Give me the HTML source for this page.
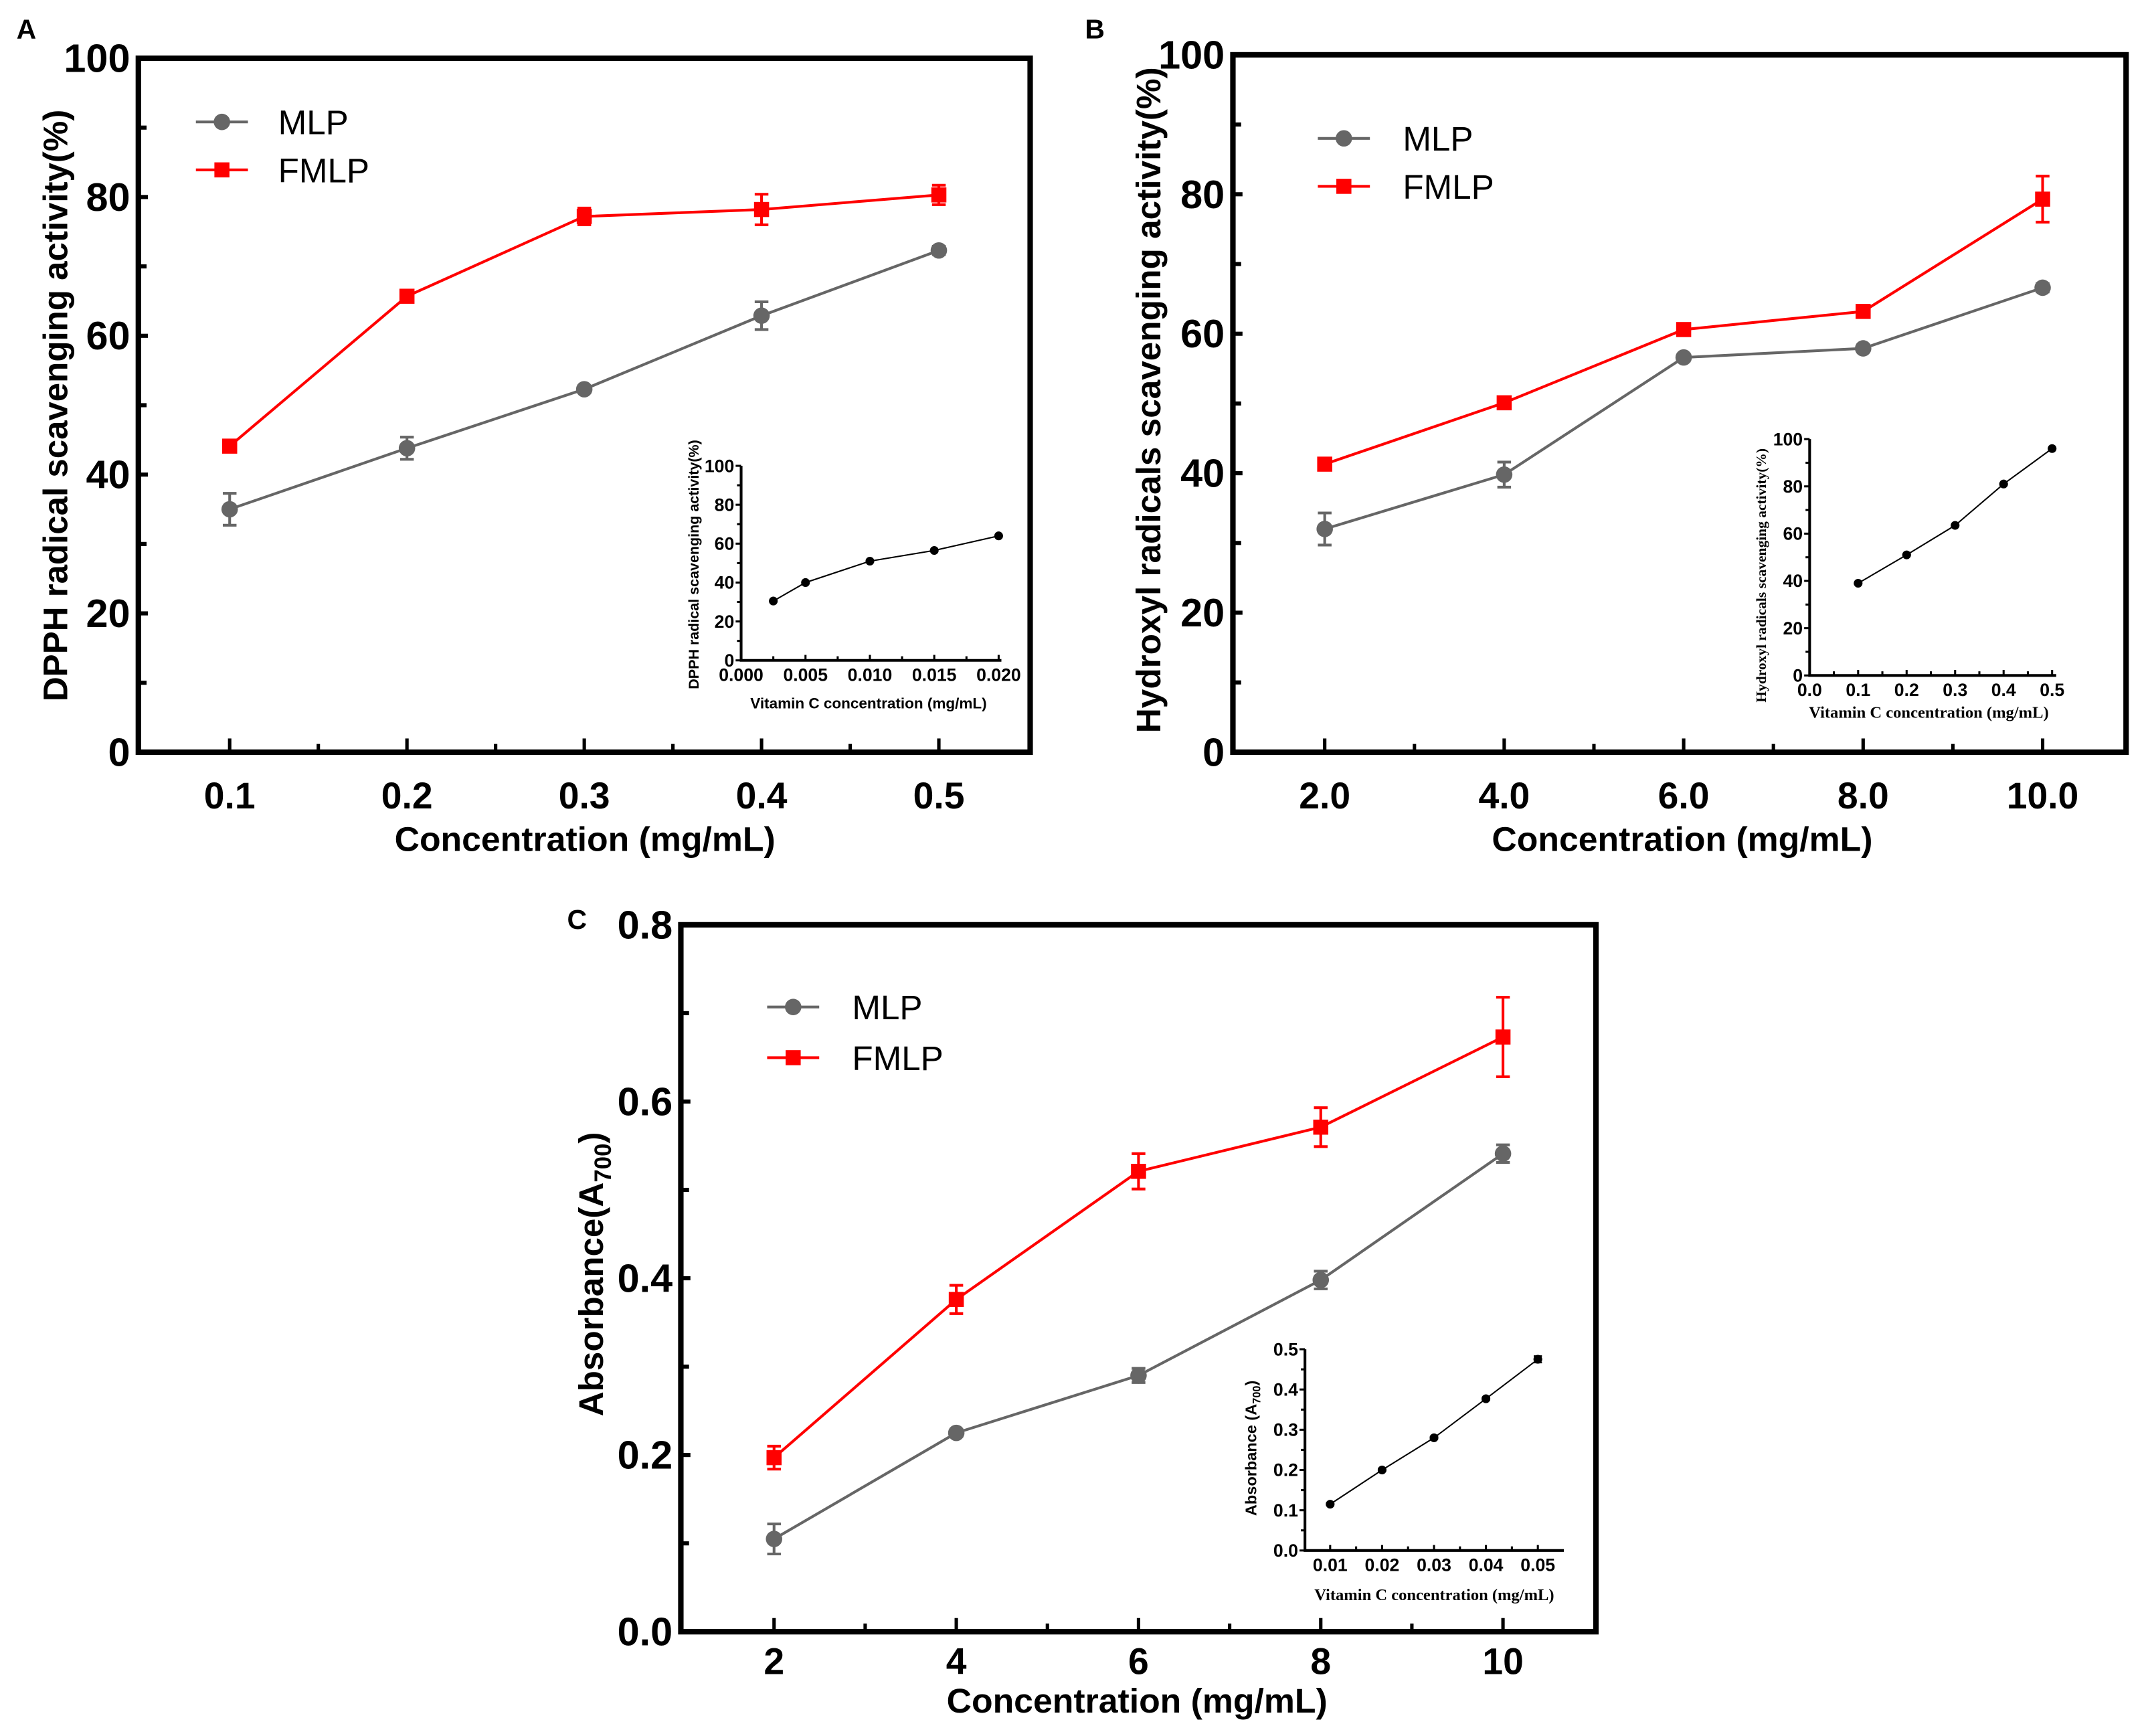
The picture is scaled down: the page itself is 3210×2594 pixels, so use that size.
<!DOCTYPE html>
<html><head><meta charset="utf-8"><style>
html,body{margin:0;padding:0;background:#fff;}
svg{display:block;}
text{font-family:"Liberation Sans Narrow","Liberation Sans",sans-serif;font-weight:bold;fill:#000;}
.serif{font-family:"Liberation Serif",serif;}
</style></head><body>
<svg id="fig" width="3210" height="2594" viewBox="0 0 1568 1267.1" xmlns="http://www.w3.org/2000/svg">
<g id="root"></g>
</svg>
<script>
// ---- Panel A data ----
const aX = [0.1, 0.2, 0.3, 0.4, 0.5];
const aMLP = [35.0, 43.8, 52.3, 62.9, 72.3];
const aMLPErr = [2.3, 1.6, 0.5, 2.0, 0.6];
const aFMLP = [44.1, 65.7, 77.2, 78.2, 80.3];
const aFMLPErr = [0.5, 0.5, 1.2, 2.2, 1.4];
const aXTicks = ["0.1", "0.2", "0.3", "0.4", "0.5"];
const aYTicks = ["0", "20", "40", "60", "80", "100"];
const aInsX = [0.0025, 0.005, 0.010, 0.015, 0.020];
const aInsY = [30.5, 40.0, 51.0, 56.5, 64.0];
const aInsXTicks = ["0.000", "0.005", "0.010", "0.015", "0.020"];
const aInsYTicks = ["0", "20", "40", "60", "80", "100"];
// ---- Panel B data ----
const bX = [2, 4, 6, 8, 10];
const bMLP = [32.0, 39.8, 56.6, 57.9, 66.6];
const bMLPErr = [2.3, 1.8, 0.5, 0.5, 0.6];
const bFMLP = [41.3, 50.1, 60.6, 63.2, 79.3];
const bFMLPErr = [0.5, 0.5, 0.6, 0.6, 3.3];
const bXTicks = ["2.0", "4.0", "6.0", "8.0", "10.0"];
const bYTicks = ["0", "20", "40", "60", "80", "100"];
const bInsX = [0.1, 0.2, 0.3, 0.4, 0.5];
const bInsY = [39.0, 51.0, 63.5, 81.0, 96.0];
const bInsXTicks = ["0.0", "0.1", "0.2", "0.3", "0.4", "0.5"];
const bInsYTicks = ["0", "20", "40", "60", "80", "100"];
// ---- Panel C data ----
const cX = [2, 4, 6, 8, 10];
const cMLP = [0.105, 0.225, 0.290, 0.398, 0.541];
const cMLPErr = [0.017, 0.004, 0.008, 0.010, 0.010];
const cFMLP = [0.197, 0.376, 0.521, 0.571, 0.673];
const cFMLPErr = [0.013, 0.016, 0.020, 0.022, 0.045];
const cXTicks = ["2", "4", "6", "8", "10"];
const cYTicks = ["0.0", "0.2", "0.4", "0.6", "0.8"];
const cInsX = [0.01, 0.02, 0.03, 0.04, 0.05];
const cInsY = [0.115, 0.200, 0.280, 0.377, 0.475];
const cInsErr = [0.003, 0.003, 0.003, 0.003, 0.008];
const cInsXTicks = ["0.01", "0.02", "0.03", "0.04", "0.05"];
const cInsYTicks = ["0.0", "0.1", "0.2", "0.3", "0.4", "0.5"];

const NS = "http://www.w3.org/2000/svg";
const root = document.getElementById('root');
function mk(tag, attrs, parent, txt) {
  const e = document.createElementNS(NS, tag);
  for (const k in attrs) e.setAttribute(k, attrs[k]);
  if (txt !== undefined) e.textContent = txt;
  (parent || root).appendChild(e);
  return e;
}
function scale(d0, d1, r0, r1) { return v => r0 + (v - d0) / (d1 - d0) * (r1 - r0); }

function panel(L) {
  const g = mk('g', {});
  
  
  const sx = scale(L.xd[0], L.xd[1], L.left, L.right);
  const sy = scale(L.yd[0], L.yd[1], L.bottom, L.top);
  const fr = mk('rect', {x: L.left, y: L.top, width: L.right - L.left, height: L.bottom - L.top, fill: 'none', stroke: '#000', 'stroke-width': 4}, g);
  
  
  const yt = L.yTicks.map(Number);
  yt.forEach((v, i) => {
    mk('line', {x1: L.left, x2: L.left + 7, y1: sy(v), y2: sy(v), stroke: '#000', 'stroke-width': 3}, g);
    const t = mk('text', {x: L.left - 6, y: sy(v) + 10, 'text-anchor': 'end', 'font-size': 29}, g, L.yTicks[i]);
    
    
    if (i < yt.length - 1) {
      const m = (v + yt[i + 1]) / 2;
      mk('line', {x1: L.left, x2: L.left + 6, y1: sy(m), y2: sy(m), stroke: '#000', 'stroke-width': 3}, g);
    }
  });
  L.xVals.forEach((v, i) => {
    mk('line', {x1: sx(v), x2: sx(v), y1: L.bottom, y2: L.bottom - 10, stroke: '#000', 'stroke-width': 2.5}, g);
    const t = mk('text', {x: sx(v), y: L.bottom + L.xtOff, 'text-anchor': 'middle', 'font-size': 27}, g, L.xTicks[i]);
    
    
    if (i < L.xVals.length - 1) {
      const m = (v + L.xVals[i + 1]) / 2;
      mk('line', {x1: sx(m), x2: sx(m), y1: L.bottom, y2: L.bottom - 6, stroke: '#000', 'stroke-width': 2.5}, g);
    }
  });
  const xt = mk('text', {x: L.xTitle[0], y: L.xTitle[1], 'text-anchor': 'middle', 'font-size': 25, textLength: 278, lengthAdjust: 'spacingAndGlyphs'}, g, L.xTitleText);
  
  
  const ytl = mk('text', {x: 0, y: 0, 'text-anchor': 'middle', 'font-size': 25, textLength: L.yLen, lengthAdjust: 'spacingAndGlyphs', transform: `translate(${L.yTitle[0]},${L.yTitle[1]}) rotate(-90)`}, g);
  
  
  if (L.sub) {
    ytl.removeAttribute('textLength');
    mk('tspan', {}, ytl, 'Absorbance(A');
    mk('tspan', {'font-size': 17, dy: 6}, ytl, '700');
    mk('tspan', {dy: -6}, ytl, ')');
  } else ytl.textContent = L.yTitleText;
  const pl = mk('text', {x: L.letter[0], y: L.letter[1], 'font-size': 20, 'font-family': 'Liberation Sans'}, g, L.letterText);
  
  
  const series = [
    {y: L.mlp, e: L.mlpErr, c: '#666666', sq: false, n: 'mlp'},
    {y: L.fmlp, e: L.fmlpErr, c: '#ff0000', sq: true, n: 'fmlp'}
  ];
  series.forEach(s => {
    const pts = L.xVals.map((x, i) => sx(x) + ',' + sy(s.y[i])).join(' ');
    const pl2 = mk('polyline', {points: pts, fill: 'none', stroke: s.c, 'stroke-width': 2}, g);
    
    
    L.xVals.forEach((x, i) => {
      const cx = sx(x), cy = sy(s.y[i]);
      const y1 = sy(s.y[i] + s.e[i]), y2 = sy(s.y[i] - s.e[i]);
      mk('path', {d: `M${cx},${y1}V${y2}M${cx - 5},${y1}H${cx + 5}M${cx - 5},${y2}H${cx + 5}`, stroke: s.c, 'stroke-width': 2, fill: 'none'}, g);
      let m;
      if (s.sq) m = mk('rect', {x: cx - 5.5, y: cy - 5.5, width: 11, height: 11, fill: s.c}, g);
      else m = mk('circle', {cx: cx, cy: cy, r: 6, fill: s.c}, g);
      
      
    });
  });
  [['MLP', '#666666', false, L.leg[1]], ['FMLP', '#ff0000', true, L.leg[1] + L.leg[3]]].forEach(r => {
    const lg = mk('g', {}, g);
    
    
    mk('line', {x1: L.leg[0] - 19, x2: L.leg[0] + 19, y1: r[3], y2: r[3], stroke: r[1], 'stroke-width': 2}, lg);
    if (r[2]) mk('rect', {x: L.leg[0] - 5.5, y: r[3] - 5.5, width: 11, height: 11, fill: r[1]}, lg);
    else mk('circle', {cx: L.leg[0], cy: r[3], r: 6, fill: r[1]}, lg);
    mk('text', {x: L.leg[2], y: r[3] + 9, 'font-size': 25, style: 'font-weight:normal;font-family:"Liberation Sans",sans-serif'}, lg, r[0]);
  });
  const I = L.ins;
  const ig = mk('g', {}, g);
  
  
  const isx = scale(I.xd[0], I.xd[1], I.x0, I.x1);
  const isy = scale(I.yd[0], I.yd[1], I.bottom, I.top);
  mk('path', {d: `M${I.left},${I.top}V${I.bottom}H${I.right}`, stroke: '#000', 'stroke-width': 2, fill: 'none'}, ig);
  const iyt = I.yTicks.map(Number);
  iyt.forEach((v, i) => {
    mk('line', {x1: I.left - 4, x2: I.left, y1: isy(v), y2: isy(v), stroke: '#000', 'stroke-width': 1.5}, ig);
    mk('text', {x: I.left - 5, y: isy(v) + 4.5, 'text-anchor': 'end', 'font-size': 13}, ig, I.yTicks[i]);
    if (i < iyt.length - 1) { const m = (v + iyt[i + 1]) / 2; mk('line', {x1: I.left - 3, x2: I.left, y1: isy(m), y2: isy(m), stroke: '#000', 'stroke-width': 1.5}, ig); }
  });
  I.xTicks.forEach((lab, i) => {
    const v = Number(lab);
    mk('line', {x1: isx(v), x2: isx(v), y1: I.bottom, y2: I.bottom - 4, stroke: '#000', 'stroke-width': 1.5}, ig);
    mk('text', {x: isx(v), y: I.bottom + 15, 'text-anchor': 'middle', 'font-size': 13}, ig, lab);
    if (i < I.xTicks.length - 1) { const m = (v + Number(I.xTicks[i + 1])) / 2; mk('line', {x1: isx(m), x2: isx(m), y1: I.bottom, y2: I.bottom - 3, stroke: '#000', 'stroke-width': 1.5}, ig); }
  });
  mk('polyline', {points: I.xs.map((x, i) => isx(x) + ',' + isy(I.ys[i])).join(' '), fill: 'none', stroke: '#000', 'stroke-width': 1}, ig);
  I.xs.forEach((x, i) => {
    if (I.err) { const a = isy(I.ys[i] + I.err[i]), b = isy(I.ys[i] - I.err[i]); mk('path', {d: `M${isx(x)},${a}V${b}M${isx(x) - 3},${a}H${isx(x) + 3}M${isx(x) - 3},${b}H${isx(x) + 3}`, stroke: '#000', 'stroke-width': 1.2}, ig); }
    const c = mk('circle', {cx: isx(x), cy: isy(I.ys[i]), r: 3.2, fill: '#000'}, ig);
    
    
  });
  const ixt = mk('text', {x: I.xTitle[0], y: I.xTitle[1], 'text-anchor': 'middle', 'font-size': I.serif ? 12 : 11}, ig, 'Vitamin C concentration (mg/mL)');
  if (I.serif) ixt.setAttribute('class', 'serif');
  const iyl = mk('text', {x: 0, y: 0, 'text-anchor': 'middle', 'font-size': I.yfs, transform: `translate(${I.yTitle[0]},${I.yTitle[1]}) rotate(-90)`}, ig);
  if (I.yserif) iyl.setAttribute('class', 'serif');
  if (I.sub) { mk('tspan', {}, iyl, 'Absorbance (A'); mk('tspan', {'font-size': 8, dy: 3}, iyl, '700'); mk('tspan', {dy: -3}, iyl, ')'); }
  else iyl.textContent = I.yTitleText;
}

panel({name: 'panel-a', letterText: 'A', letter: [12, 28], left: 101, right: 752, top: 42.5, bottom: 549,
  xd: [0.0485, 0.5515], yd: [0, 100], xVals: aX, xTicks: aXTicks, yTicks: aYTicks, xtOff: 41,
  mlp: aMLP, mlpErr: aMLPErr, fmlp: aFMLP, fmlpErr: aFMLPErr,
  xTitle: [427, 621], xTitleText: 'Concentration (mg/mL)', yTitle: [49, 296], yLen: 432, yTitleText: 'DPPH radical scavenging activity(%)',
  leg: [162, 89, 203, 35],
  ins: {left: 541, right: 731, top: 340, bottom: 482, x0: 541, x1: 729, xd: [0, 0.02], yd: [0, 100],
    xTicks: aInsXTicks, yTicks: aInsYTicks, xs: aInsX, ys: aInsY, xTitle: [634, 517], yTitle: [510, 412], yfs: 10.5,
    yTitleText: 'DPPH radical scavenging activity(%)'}});

panel({name: 'panel-b', letterText: 'B', letter: [792, 28], left: 900, right: 1552, top: 40, bottom: 549,
  xd: [0.977, 10.93], yd: [0, 100], xVals: bX, xTicks: bXTicks, yTicks: bYTicks, xtOff: 41,
  mlp: bMLP, mlpErr: bMLPErr, fmlp: bFMLP, fmlpErr: bFMLPErr,
  xTitle: [1228, 621], xTitleText: 'Concentration (mg/mL)', yTitle: [847, 292], yLen: 486, yTitleText: 'Hydroxyl radicals scavenging activity(%)',
  leg: [981, 101, 1024, 35],
  ins: {left: 1321, right: 1501, top: 320.5, bottom: 493, x0: 1321, x1: 1498, xd: [0, 0.5], yd: [0, 100],
    xTicks: bInsXTicks, yTicks: bInsYTicks, xs: bInsX, ys: bInsY, xTitle: [1408, 524], yTitle: [1289, 420], yfs: 10.5,
    serif: true, yserif: true, yTitleText: 'Hydroxyl radicals scavenging activity(%)'}});

panel({name: 'panel-c', letterText: 'C', letter: [414, 678], left: 497, right: 1165, top: 675, bottom: 1191,
  xd: [0.977, 11.02], yd: [0, 0.8], xVals: cX, xTicks: cXTicks, yTicks: cYTicks, xtOff: 31,
  mlp: cMLP, mlpErr: cMLPErr, fmlp: cFMLP, fmlpErr: cFMLPErr,
  xTitle: [830, 1250], xTitleText: 'Concentration (mg/mL)', yTitle: [440, 930], sub: true,
  leg: [579, 735, 622, 37],
  ins: {left: 952.6, right: 1141.6, top: 984.8, bottom: 1131.7, x0: 971, x1: 1122.6, xd: [0.01, 0.05], yd: [0, 0.5],
    xTicks: cInsXTicks, yTicks: cInsYTicks, xs: cInsX, ys: cInsY, err: cInsErr, xTitle: [1047, 1168], yTitle: [917, 1057], yfs: 11.5,
    serif: true, sub: true}});
</script>
</body></html>
